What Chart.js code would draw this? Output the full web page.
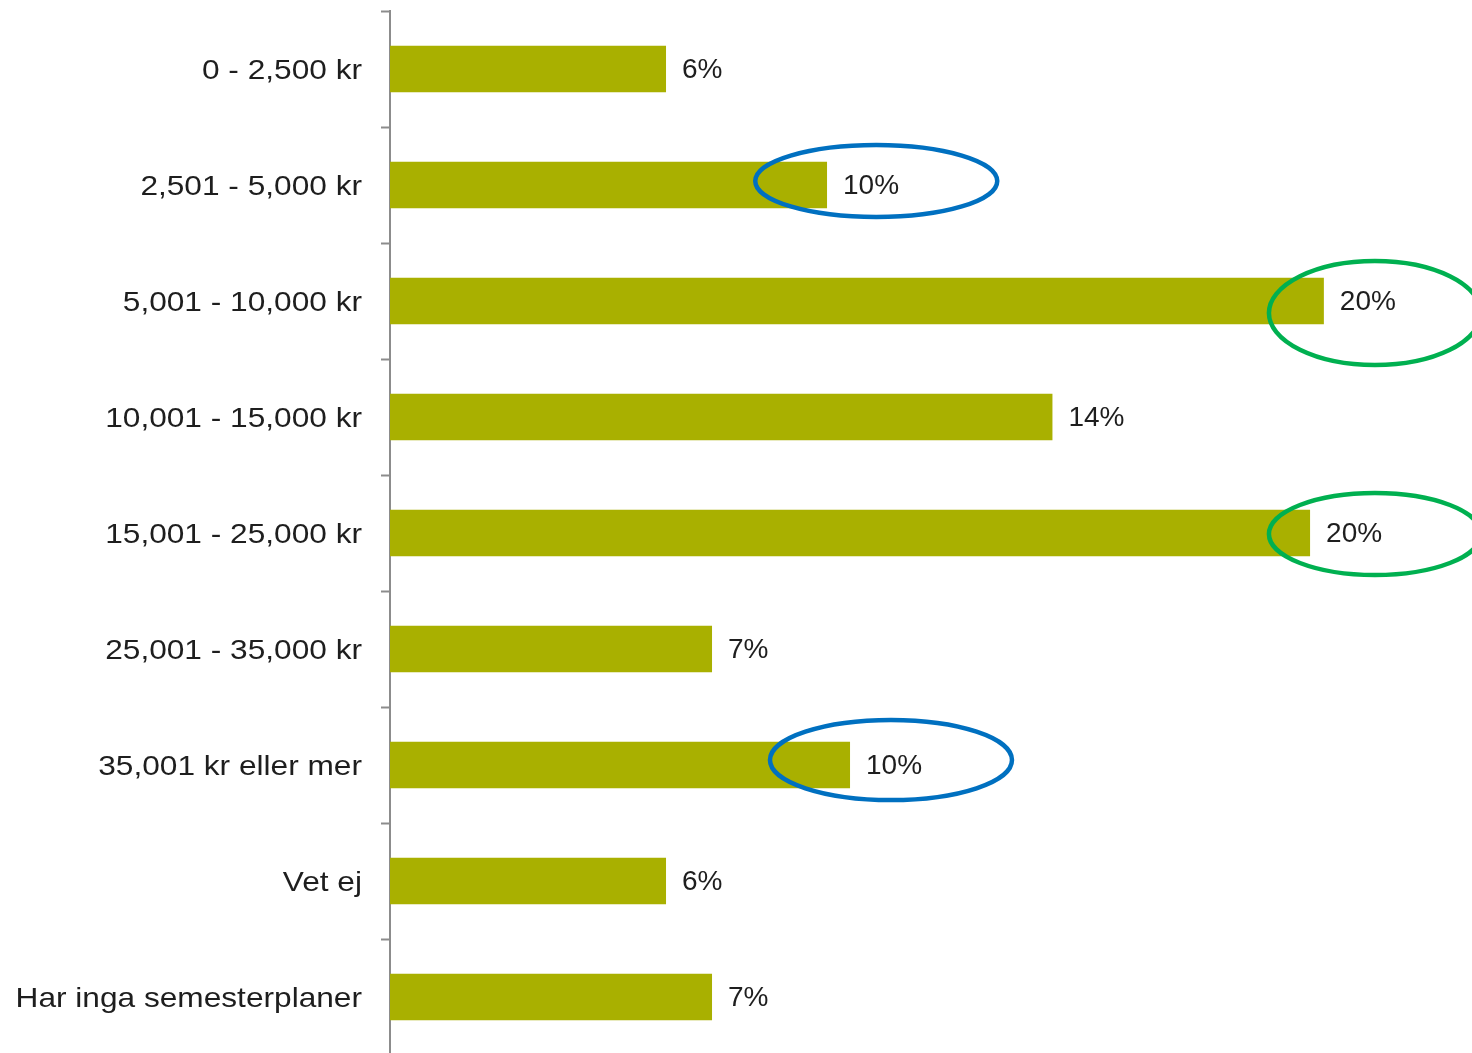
<!DOCTYPE html>
<html>
<head>
<meta charset="utf-8">
<script src="https://cdn.jsdelivr.net/npm/chart.js@4"></script>
<style>
    html, body { margin: 0; padding: 0; background: #fff; overflow: hidden; }
    #wrap { width: 1472px; height: 1055px; position: relative; }
</style>
</head>
<body>
<div id="wrap"><canvas id="kostnadChart"></canvas></div>
<script>
// Kategorier och värden (procent)
const kategorier = [
    '0 - 2,500 kr',
    '2,501 - 5,000 kr',
    '5,001 - 10,000 kr',
    '10,001 - 15,000 kr',
    '15,001 - 25,000 kr',
    '25,001 - 35,000 kr',
    '35,001 kr eller mer',
    'Vet ej',
    'Har inga semesterplaner'
];
const andelar = [6.0, 9.5, 20.3, 14.4, 20.0, 7.0, 10.0, 6.0, 7.0];
const etiketter = ['6%', '10%', '20%', '14%', '20%', '7%', '10%', '6%', '7%'];

// Markeringar (ellipser) runt vissa etiketter
const markeringar = [
    { index: 1, x: 10.57, dy: -4, rx: 121, ry: 36, color: '#0070c0' },
    { index: 2, x: 21.41, dy: 12, rx: 106, ry: 52, color: '#00b050' },
    { index: 4, x: 21.41, dy: 1, rx: 106, ry: 41, color: '#00b050' },
    { index: 6, x: 10.89, dy: -5, rx: 121, ry: 40, color: '#0070c0' }
];

const fontFamily = '"Liberation Sans", Arial, Helvetica, sans-serif';
const textFarg = '#1e1e1e';

// Plugin: kategorinamn (lite breddade, som i originalet)
const kategoriText = {
    id: 'kategoriText',
    afterDraw(chart) {
        const ctx = chart.ctx;
        const ys = chart.scales.y;
        ctx.save();
        ctx.font = '28px ' + fontFamily;
        ctx.fillStyle = textFarg;
        ctx.textAlign = 'right';
        ctx.textBaseline = 'middle';
        kategorier.forEach((namn, i) => {
            ctx.save();
            ctx.translate(ys.right - 28, ys.getPixelForValue(i) + 2);
            ctx.scale(1.13, 1);
            ctx.fillText(namn, 0, 0);
            ctx.restore();
        });
        ctx.restore();
    }
};

// Plugin: skriv procentetiketter efter staplarna
const stapelEtiketter = {
    id: 'stapelEtiketter',
    afterDatasetsDraw(chart) {
        const ctx = chart.ctx;
        const meta = chart.getDatasetMeta(0);
        ctx.save();
        ctx.font = '28px ' + fontFamily;
        ctx.fillStyle = textFarg;
        ctx.textAlign = 'left';
        ctx.textBaseline = 'middle';
        meta.data.forEach((bar, i) => {
            ctx.fillText(etiketter[i], bar.x + 16, bar.y + 1);
        });
        ctx.restore();
    }
};

// Plugin: rita ellipser
const ellipser = {
    id: 'ellipser',
    afterDraw(chart) {
        const ctx = chart.ctx;
        const xs = chart.scales.x;
        const ys = chart.scales.y;
        ctx.save();
        ctx.lineWidth = 4.5;
        markeringar.forEach(m => {
            const cx = xs.getPixelForValue(m.x);
            const cy = ys.getPixelForValue(m.index) + m.dy;
            ctx.strokeStyle = m.color;
            ctx.beginPath();
            ctx.ellipse(cx, cy, m.rx, m.ry, 0, 0, Math.PI * 2);
            ctx.stroke();
        });
        ctx.restore();
    }
};

const ctx = document.getElementById('kostnadChart').getContext('2d');
const kostnadChart = new Chart(ctx, {
    type: 'bar',
    data: {
        labels: kategorier,
        datasets: [{
            data: andelar,
            backgroundColor: '#a9b000',
            borderWidth: 0,
            barPercentage: 0.4,
            categoryPercentage: 1.0
        }]
    },
    options: {
        indexAxis: 'y',
        responsive: true,
        maintainAspectRatio: false,
        animation: false,
        layout: { padding: { top: 11, right: 0, bottom: 0, left: 0 } },
        plugins: {
            legend: { display: false },
            tooltip: { enabled: false }
        },
        scales: {
            x: {
                display: false,
                min: 0,
                max: 23.52
            },
            y: {
                afterFit(scale) {
                    scale.width = 390;
                    scale.paddingTop = 0;
                    scale.paddingBottom = 0;
                },
                border: { display: true, color: '#8c8c8c', width: 2 },
                grid: {
                    drawOnChartArea: false,
                    drawTicks: true,
                    tickLength: 9,
                    tickWidth: 2,
                    tickColor: '#8c8c8c',
                    offset: true
                },
                ticks: {
                    padding: 19,
                    color: 'rgba(0,0,0,0)',
                    font: { size: 28, family: fontFamily }
                }
            }
        }
    },
    plugins: [stapelEtiketter, ellipser, kategoriText]
});
</script>
</body>
</html>
